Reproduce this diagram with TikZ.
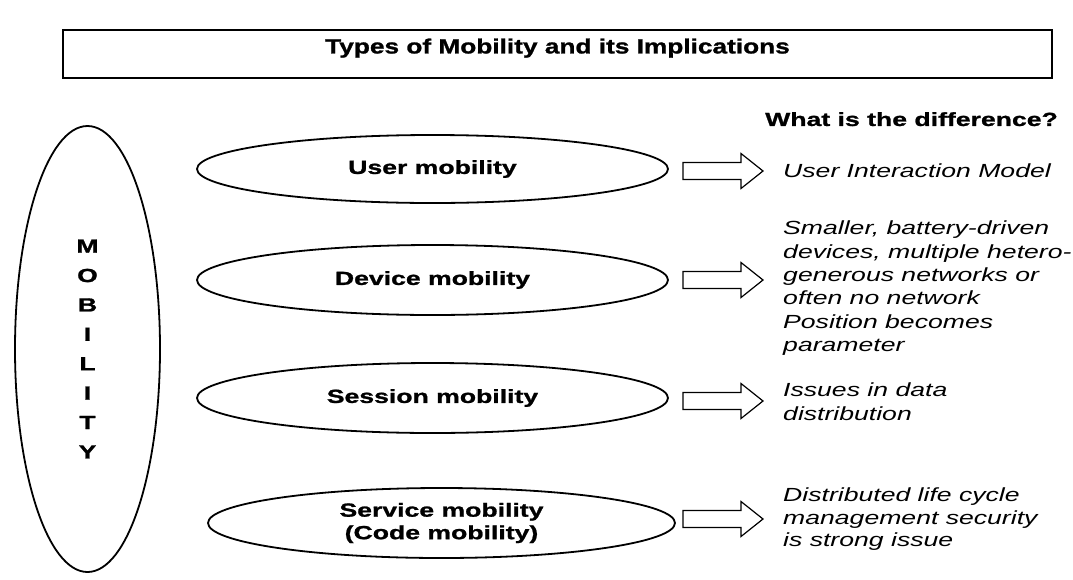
\documentclass[tikz,border=0pt]{standalone}
\usepackage{fontspec}
\setmainfont{Liberation Sans}
\usetikzlibrary{shapes.geometric}
\newfontfamily\widefont[FakeStretch=1.4]{Liberation Sans}
\newfontfamily\widebold[FakeStretch=1.4,FakeBold=1.2]{Liberation Sans Bold}
\newfontfamily\titlefont[FakeStretch=1.28,FakeBold=1.2]{Liberation Sans Bold}
\tikzset{
  lbl/.style={font=\widebold\fontsize{19}{23}\selectfont},
  itl/.style={font=\widefont\fontsize{19}{23.3}\selectfont\itshape, align=left, inner sep=0pt},
  oval/.style={draw, line width=1.8pt, ellipse, inner sep=0pt, align=center},
  fatarrow/.style={draw, line width=1.2pt, fill=white, line join=miter},
}
\begin{document}
\begin{tikzpicture}[x=1pt,y=-1pt]
\useasboundingbox (0,0) rectangle (1073,579);
% title
\node[draw, line width=2pt, minimum width=989pt, minimum height=48pt, inner sep=0pt, text depth=16pt,
  font=\titlefont\fontsize{20.5}{24}\selectfont] (title) at (557.5,54) {Types of Mobility and its Implications};
% mobility ellipse
\node[oval, minimum width=145pt, minimum height=446pt, font=\widebold\fontsize{19}{29.4}\selectfont] (mob) at (87.5,349)
  {M\\O\\B\\I\\L\\I\\T\\Y};
% type ellipses
\node[oval, lbl, minimum width=471pt, minimum height=68pt] (user) at (432.5,169) {User mobility};
\node[oval, lbl, minimum width=471pt, minimum height=70pt] (device) at (432.5,280) {Device mobility};
\node[oval, lbl, minimum width=471pt, minimum height=70pt] (session) at (432.5,398) {Session mobility};
\node[oval, minimum width=467pt, minimum height=70pt, font=\widebold\fontsize{19}{22.5}\selectfont] (service) at (441.5,523) {Service mobility\\(Code mobility)};
% arrows
\foreach \n/\y in {ua/171,da/280,sa/401,va/519}{
  \coordinate (\n) at (683,\y);
  \draw[fatarrow] (\n) ++(0,-8.5) -- ++(58,0) -- ++(0,-9) -- ++(22,17.5) -- ++(-22,17.5) -- ++(0,-9) -- ++(-58,0) -- cycle;
}
% header
\node[lbl, anchor=north west, inner sep=0pt] (head) at (765,112) {What is the difference?};
% implications
\node[itl, anchor=north west] (t1) at (783,164) {User Interaction Model};
\node[itl, anchor=north west] (t2) at (783,221) {Smaller, battery-driven\\devices, multiple hetero-\\generous networks or\\often no network\\Position becomes\\parameter};
\node[itl, anchor=north west] (t3) at (783,383) {Issues in data\\distribution};
\node[itl, anchor=north west, font=\widefont\fontsize{19}{22.5}\selectfont\itshape] (t4) at (783,488) {Distributed life cycle\\management security\\is strong issue};
\end{tikzpicture}
\end{document}
